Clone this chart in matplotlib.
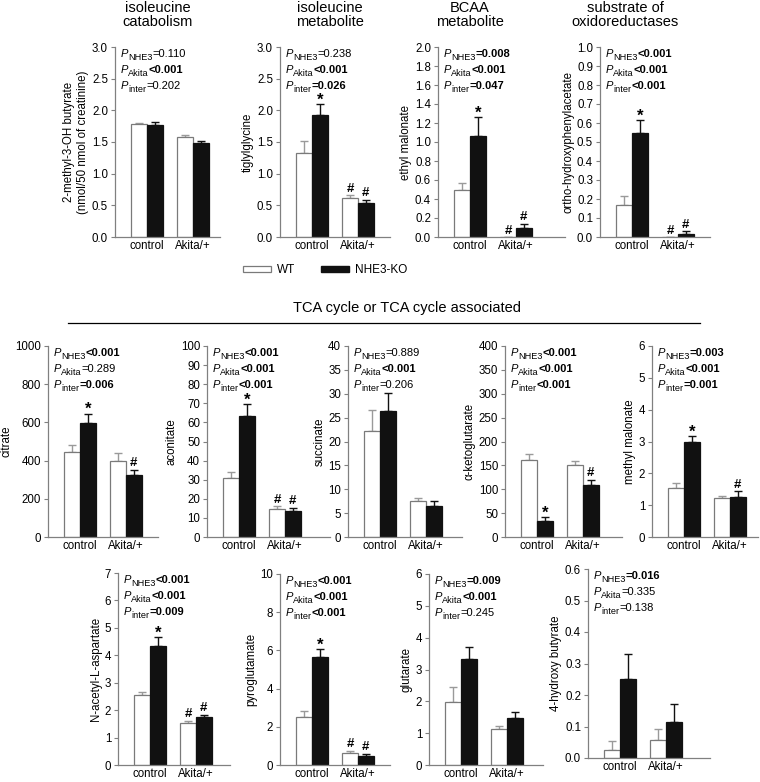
import matplotlib.pyplot as plt
from matplotlib.lines import Line2D
from matplotlib.patches import Patch
import numpy as np

plt.rcParams['font.family'] = 'Liberation Sans'

groups = ["control", "Akita/+"]
p_names = ["NHE3", "Akita", "inter"]

# values: [control, Akita/+]
butyrate_wt = [1.78, 1.58]
butyrate_wt_err = [0.02, 0.03]
butyrate_ko = [1.77, 1.48]
butyrate_ko_err = [0.05, 0.04]
butyrate_p = ["=0.110", "<0.001", "=0.202"]

tiglyl_wt = [1.32, 0.61]
tiglyl_wt_err = [0.19, 0.05]
tiglyl_ko = [1.92, 0.54]
tiglyl_ko_err = [0.18, 0.05]
tiglyl_p = ["=0.238", "<0.001", "=0.026"]

ethylmal_wt = [0.49, 0.0]
ethylmal_wt_err = [0.08, 0.0]
ethylmal_ko = [1.06, 0.09]
ethylmal_ko_err = [0.20, 0.05]
ethylmal_p = ["=0.008", "<0.001", "=0.047"]

ohpa_wt = [0.17, 0.0]
ohpa_wt_err = [0.045, 0.0]
ohpa_ko = [0.55, 0.015]
ohpa_ko_err = [0.065, 0.015]
ohpa_p = ["<0.001", "<0.001", "<0.001"]

citrate_wt = [445, 400]
citrate_wt_err = [35, 38]
citrate_ko = [598, 327]
citrate_ko_err = [48, 25]
citrate_p = ["<0.001", "=0.289", "=0.006"]

aconitate_wt = [31, 14.8]
aconitate_wt_err = [3, 1.3]
aconitate_ko = [63.5, 13.8]
aconitate_ko_err = [6, 1.5]
aconitate_p = ["<0.001", "<0.001", "<0.001"]

succinate_wt = [22.3, 7.6]
succinate_wt_err = [4.2, 0.5]
succinate_ko = [26.3, 6.5]
succinate_ko_err = [3.8, 1.1]
succinate_p = ["=0.889", "<0.001", "=0.206"]

akg_wt = [161, 150]
akg_wt_err = [13, 10]
akg_ko = [34, 108]
akg_ko_err = [8, 12]
akg_p = ["<0.001", "<0.001", "<0.001"]

methylmal_wt = [1.55, 1.23]
methylmal_wt_err = [0.15, 0.05]
methylmal_ko = [3.0, 1.25]
methylmal_ko_err = [0.16, 0.18]
methylmal_p = ["=0.003", "<0.001", "=0.001"]

naa_wt = [2.57, 1.52]
naa_wt_err = [0.10, 0.10]
naa_ko = [4.35, 1.74]
naa_ko_err = [0.32, 0.10]
naa_p = ["<0.001", "<0.001", "=0.009"]

pyroglu_wt = [2.5, 0.63]
pyroglu_wt_err = [0.33, 0.12]
pyroglu_ko = [5.65, 0.48]
pyroglu_ko_err = [0.40, 0.12]
pyroglu_p = ["<0.001", "<0.001", "<0.001"]

glutarate_wt = [1.98, 1.13]
glutarate_wt_err = [0.46, 0.10]
glutarate_ko = [3.32, 1.47]
glutarate_ko_err = [0.40, 0.18]
glutarate_p = ["=0.009", "<0.001", "=0.245"]

hba_wt = [0.026, 0.056]
hba_wt_err = [0.027, 0.036]
hba_ko = [0.25, 0.115]
hba_ko_err = [0.08, 0.056]
hba_p = ["=0.016", "=0.335", "=0.138"]

W, H = 760, 782
fig = plt.figure(figsize=(W / 100, H / 100), dpi=100)

PX_UNIT = 46.0
LEFT_PX = 32.0
BW = 0.34
FS = 8


def p_line(ax, row, name, val):
    bold = val.startswith("<") or float(val[1:]) < 0.05
    t1 = ax.annotate("P", xy=(0, 1), xycoords='axes fraction',
                     xytext=(4, -7 - row * 11.5), textcoords='offset points',
                     va='baseline', ha='left', fontsize=FS, style='italic')
    t2 = ax.annotate(name, xy=(1, 0), xycoords=t1, xytext=(0.2, -1.0),
                     textcoords='offset points', va='baseline', ha='left', fontsize=6.6)
    ax.annotate(val, xy=(1, 0), xycoords=(t2, t1), xytext=(0, 0),
                textcoords='offset points', va='bottom', ha='left', fontsize=FS,
                fontweight='bold' if bold else 'normal')


def panel(px, ylabel, wt, wt_err, ko, ko_err, pvals, ymax, step, dec,
          wt_marks=("", ""), ko_marks=("", "")):
    l, t, r, b = px
    ax = fig.add_axes([l / W, 1 - b / H, (r - l) / W, (b - t) / H])
    x = np.arange(2)
    ax.bar(x - BW / 2, wt, BW, color='white', edgecolor='#7a7a7a', lw=0.9, zorder=2)
    ax.bar(x + BW / 2, ko, BW, color='#111111', edgecolor='#111111', lw=0.9, zorder=2)
    ax.errorbar(x - BW / 2, wt, yerr=[np.zeros(2), wt_err], fmt='none',
                ecolor='#9a9a9a', elinewidth=1, capsize=3, capthick=1, zorder=1)
    ax.errorbar(x + BW / 2, ko, yerr=[np.zeros(2), ko_err], fmt='none',
                ecolor='#111111', elinewidth=1, capsize=3, capthick=1, zorder=1)
    for i in range(2):
        for xs, v, e, m in ((x[i] - BW / 2, wt[i], wt_err[i], wt_marks[i]),
                            (x[i] + BW / 2, ko[i], ko_err[i], ko_marks[i])):
            if m:
                fs = 12 if m == "*" else 9.5
                ax.annotate(m, (xs, v + e), xytext=(0, -2.5 if m == "*" else 0.2),
                            textcoords='offset points', ha='center', va='bottom',
                            fontsize=fs, fontweight='bold')
    ax.set_xlim(-LEFT_PX / PX_UNIT, ((r - l) - LEFT_PX) / PX_UNIT)
    ax.set_ylim(0, ymax)
    ticks = np.arange(0, ymax + step / 2, step)
    ax.set_yticks(ticks)
    ax.set_yticklabels([f"{v:.{dec}f}" for v in ticks])
    ax.set_xticks(x)
    ax.set_xticklabels(groups)
    for s in ('top', 'right'):
        ax.spines[s].set_visible(False)
    for s in ('left', 'bottom'):
        ax.spines[s].set_color('#808080')
        ax.spines[s].set_linewidth(0.9)
    ax.tick_params(axis='y', direction='out', length=3, width=0.8,
                   color='#808080', labelsize=FS + 0.3, pad=2)
    ax.tick_params(axis='x', length=0, labelsize=FS + 0.3, pad=2.5)
    ax.set_ylabel(ylabel, fontsize=FS + 0.3, labelpad=2)
    for i, (name, val) in enumerate(zip(p_names, pvals)):
        p_line(ax, i, name, val)
    return ax


# top row
panel((115, 47, 220, 237), "2-methyl-3-OH butyrate\n(nmol/50 nmol of creatinine)",
      butyrate_wt, butyrate_wt_err, butyrate_ko, butyrate_ko_err, butyrate_p, 3.0, 0.5, 1)
panel((280, 47, 390, 237), "tiglylglycine",
      tiglyl_wt, tiglyl_wt_err, tiglyl_ko, tiglyl_ko_err, tiglyl_p, 3.0, 0.5, 1,
      ("", "#"), ("*", "#"))
panel((438, 47, 565, 237), "ethyl malonate",
      ethylmal_wt, ethylmal_wt_err, ethylmal_ko, ethylmal_ko_err, ethylmal_p, 2.0, 0.2, 1,
      ("", "#"), ("*", "#"))
panel((600, 47, 710, 237), "ortho-hydroxyphenylacetate",
      ohpa_wt, ohpa_wt_err, ohpa_ko, ohpa_ko_err, ohpa_p, 1.0, 0.1, 1,
      ("", "#"), ("*", "#"))

# middle row
panel((48, 346, 158, 537), "citrate",
      citrate_wt, citrate_wt_err, citrate_ko, citrate_ko_err, citrate_p, 1000, 200, 0,
      ("", ""), ("*", "#"))
panel((207, 346, 330, 537), "aconitate",
      aconitate_wt, aconitate_wt_err, aconitate_ko, aconitate_ko_err, aconitate_p, 100, 10, 0,
      ("", "#"), ("*", "#"))
panel((348, 346, 462, 537), "succinate",
      succinate_wt, succinate_wt_err, succinate_ko, succinate_ko_err, succinate_p, 40, 5, 0)
panel((505, 346, 622, 537), "α-ketoglutarate",
      akg_wt, akg_wt_err, akg_ko, akg_ko_err, akg_p, 400, 50, 0,
      ("", ""), ("*", "#"))
panel((652, 346, 758, 537), "methyl malonate",
      methylmal_wt, methylmal_wt_err, methylmal_ko, methylmal_ko_err, methylmal_p, 6, 1, 0,
      ("", ""), ("*", "#"))

# bottom row
panel((118, 573, 230, 765), "N-acetyl-L-aspartate",
      naa_wt, naa_wt_err, naa_ko, naa_ko_err, naa_p, 7, 1, 0,
      ("", "#"), ("*", "#"))
panel((280, 574, 390, 765), "pyroglutamate",
      pyroglu_wt, pyroglu_wt_err, pyroglu_ko, pyroglu_ko_err, pyroglu_p, 10, 2, 0,
      ("", "#"), ("*", "#"))
panel((429, 574, 543, 765), "glutarate",
      glutarate_wt, glutarate_wt_err, glutarate_ko, glutarate_ko_err, glutarate_p, 6, 1, 0)
panel((588, 569, 710, 758), "4-hydroxy butyrate",
      hba_wt, hba_wt_err, hba_ko, hba_ko_err, hba_p, 0.6, 0.1, 1)

# group titles
titles = [(158, "isoleucine\ncatabolism"), (330, "isoleucine\nmetabolite"),
          (470, "BCAA\nmetabolite"), (625, "substrate of\noxidoreductases")]
for xp, s in titles:
    fig.text(xp / W, 1 - 15 / H, s, ha='center', va='center', fontsize=10.5, linespacing=1.05)

fig.text(407 / W, 1 - 308 / H, "TCA cycle or TCA cycle associated",
         ha='center', va='center', fontsize=10.5)
fig.add_artist(Line2D([68 / W, 700 / W], [1 - 323 / H, 1 - 323 / H], color='black', lw=0.9))

handles = [Patch(facecolor='white', edgecolor='#7a7a7a', lw=0.9),
           Patch(facecolor='#111111', edgecolor='#111111')]
fig.legend(handles, ["WT", "NHE3-KO"], loc='center', bbox_to_anchor=(325 / W, 1 - 270 / H),
           ncol=2, frameon=False, fontsize=8.5, handlelength=2.4, handleheight=0.45,
           columnspacing=2.2, handletextpad=0.5)

fig.savefig("out.png", dpi=100)
